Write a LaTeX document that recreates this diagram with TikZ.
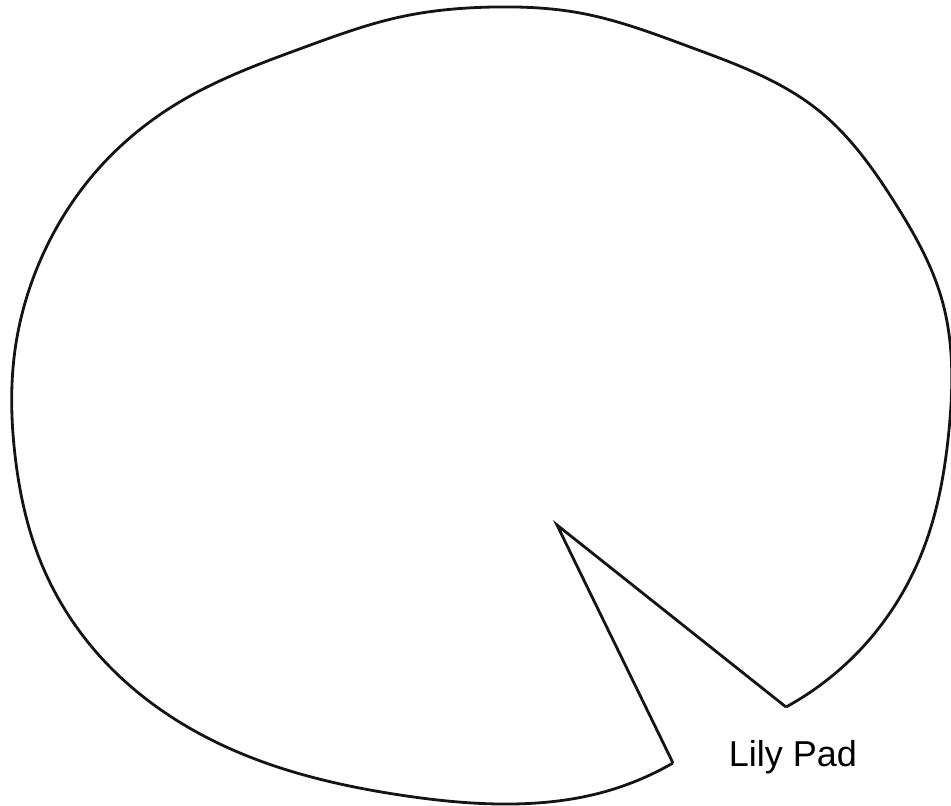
\documentclass[tikz,border=0pt]{standalone}
\usepackage{fontspec}
\setmainfont{Liberation Sans}
\usetikzlibrary{hobby}
\begin{document}
\begin{tikzpicture}[x=1pt,y=-1pt,
  padline/.style={draw=black!92,line width=2.8pt,line join=miter},
  padlabel/.style={font=\fontsize{36}{40}\selectfont,inner sep=0pt}]
\useasboundingbox (0,0) rectangle (951,806);
\coordinate (rc) at (786,707);
\coordinate (lc) at (673,763);
\coordinate (apex) at (557,525);
\draw[padline,use Hobby shortcut] (rc) .. (860,650) .. (923,550) .. (949,430)
 .. (942,300) .. (895,203) .. (818,110) .. (690,47) .. (580,13) .. (494,7)
 .. (400,17) .. (305,47) .. (183,100) .. (100,167) .. (45,250) .. (15,350)
 .. (15,455) .. (42,565) .. (110,667) .. (233,750) .. (400,795) .. (500,804)
 .. (600,793) .. (lc);
\draw[padline] (lc) -- (apex) -- (rc);
\node[padlabel] (lbl) at (793,757) {Lily Pad};
\end{tikzpicture}
\end{document}
